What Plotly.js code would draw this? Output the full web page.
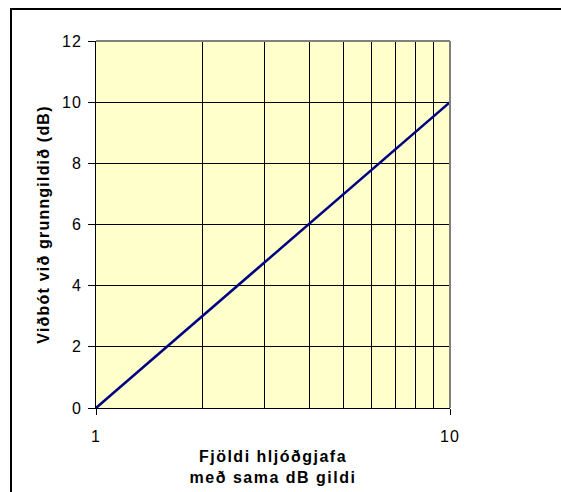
<!DOCTYPE html>
<html>
<head>
<meta charset="utf-8">
<script src="https://cdn.plot.ly/plotly-3.0.1.min.js"></script>
<style>
  html, body { margin: 0; padding: 0; background: #ffffff; }
  #wrap { position: relative; width: 561px; height: 492px; overflow: hidden; }
  #frame { position: absolute; left: 10px; top: 8px; width: 700px; height: 700px;
           border-left: 2px solid #000; border-top: 2px solid #000; box-sizing: border-box; }
  #chart { position: absolute; left: 0; top: 0; width: 561px; height: 492px; }
  #chart text.xtitle { letter-spacing: 1.5px; }
  #chart text.ytitle { letter-spacing: 1.2px; }
  #chart g.xtick text, #chart g.ytick text { letter-spacing: 1px; }
</style>
</head>
<body>
<div id="wrap">
  <div id="frame"></div>
  <div id="chart"></div>
</div>
<script>
// Number of sources with the same dB level
const sources = [1, 2, 3, 4, 5, 6, 7, 8, 9, 10];
// Increase over the base level (dB)
const increaseDb = [0, 3.01, 4.77, 6.02, 6.99, 7.78, 8.45, 9.03, 9.54, 10];
const xTickVals = [1, 10];
const xTickText = ['1', '10'];
const xGridVals = [2, 3, 4, 5, 6, 7, 8, 9];
const yTitle = 'Viðbót við grunngildið (dB)';
const xTitle = 'Fjöldi hljóðgjafa<br>með sama dB gildi';

const font = 'Arial, "Liberation Sans", sans-serif';

const trace = {
  x: sources,
  y: increaseDb,
  type: 'scatter',
  mode: 'lines',
  line: { color: '#000080', width: 2.5 },
  hoverinfo: 'skip',
  showlegend: false
};

const layout = {
  width: 561,
  height: 492,
  paper_bgcolor: 'rgba(0,0,0,0)',
  plot_bgcolor: '#FFFFCC',
  margin: { l: 96, r: 111, t: 41, b: 84 },
  font: { family: font, size: 16, color: '#000' },
  showlegend: false,
  xaxis: {
    type: 'log',
    range: [0, 1],
    tickmode: 'array',
    tickvals: xTickVals,
    ticktext: xTickText,
    ticks: 'outside',
    ticklen: 6,
    tickwidth: 1,
    tickcolor: '#000',
    showline: true,
    linecolor: '#000',
    linewidth: 1,
    showgrid: false,
    zeroline: false,
    ticklabelstandoff: 8,
    minor: { tickvals: xGridVals, showgrid: true, gridcolor: '#000', gridwidth: 1, ticks: '' },
    title: { text: xTitle, font: { family: font, size: 16, color: '#000', weight: 'bold' }, standoff: 6 }
  },
  yaxis: {
    range: [0, 12],
    dtick: 2,
    ticks: 'outside',
    ticklen: 7,
    tickwidth: 1,
    tickcolor: '#000',
    showline: true,
    linecolor: '#000',
    linewidth: 1,
    showgrid: true,
    gridcolor: '#000',
    gridwidth: 1,
    zeroline: false,
    ticklabelstandoff: 3,
    title: { text: yTitle, font: { family: font, size: 16, color: '#000', weight: 'bold' }, standoff: 10 }
  },
  shapes: [
    { type: 'line', xref: 'paper', yref: 'paper', x0: 0, x1: 1, y0: 1, y1: 1,
      line: { color: '#808080', width: 2 } },
    { type: 'line', xref: 'paper', yref: 'paper', x0: 1, x1: 1, y0: 0, y1: 1,
      line: { color: '#808080', width: 2 } }
  ]
};

Plotly.newPlot('chart', [trace], layout, { displayModeBar: false, staticPlot: true });
</script>
</body>
</html>
